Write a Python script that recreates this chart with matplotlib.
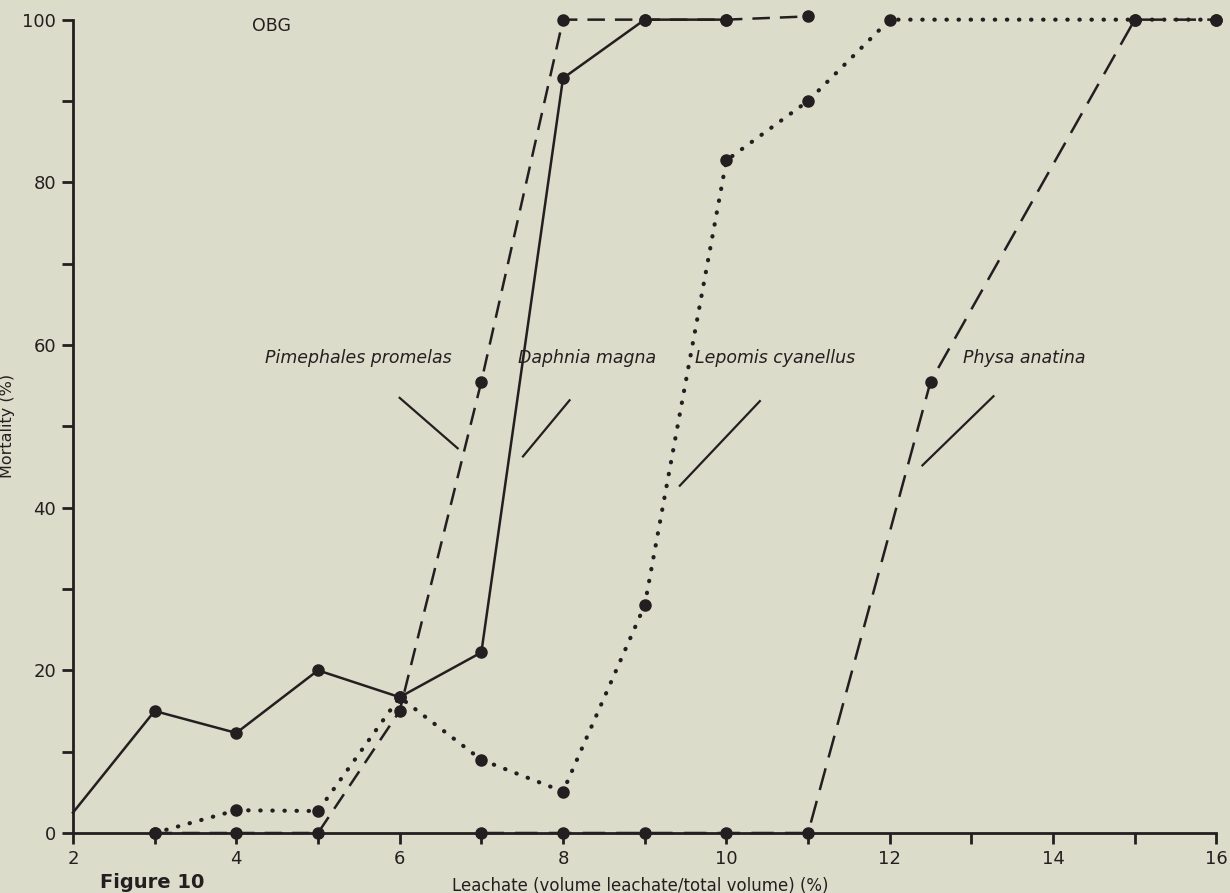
import matplotlib.pyplot as plt
from matplotlib.ticker import MultipleLocator

# data
daphnia_x = [2, 3, 4, 5, 6, 7, 8, 9, 10]
daphnia_y = [2.5, 15, 12.3, 20, 16.7, 22.2, 92.8, 100, 100]

pimephales_x = [3, 4, 5, 6, 7, 8, 9, 10, 11]
pimephales_y = [0, 0, 0, 15, 55.5, 100, 100, 100, 100.4]

lepomis_x = [3, 4, 5, 6, 7, 8, 9, 10, 11, 12, 15, 16]
lepomis_y = [0, 2.8, 2.7, 16.7, 9, 5.1, 28, 82.7, 90, 100, 100, 100]

physa_x = [7, 8, 9, 10, 11, 12.5, 15, 16]
physa_y = [0, 0, 0, 0, 0, 55.5, 100, 100]

species = ['Pimephales promelas', 'Daphnia magna', 'Lepomis cyanellus', 'Physa anatina']
label_x = [5.49, 8.29, 10.59, 13.65]
label_y = [58.4, 58.4, 58.4, 58.4]
leader_start = [(6.0, 53.5), (8.08, 53.2), (10.41, 53.1), (13.27, 53.7)]
leader_end = [(6.71, 47.3), (7.51, 46.3), (9.43, 42.7), (12.40, 45.2)]

bg = '#dcdccb'
ink = '#231f20'

fig = plt.figure(figsize=(12.3, 8.93), dpi=100, facecolor=bg)
ax = fig.add_axes([0.0593, 0.0672, 0.9297, 0.9108])
ax.set_facecolor(bg)

mk = dict(marker='o', markersize=8, color=ink, clip_on=False)

ax.plot(daphnia_x, daphnia_y, linestyle='-', lw=1.8, markevery=list(range(1, len(daphnia_x))), **mk)
ax.plot(pimephales_x, pimephales_y, linestyle=(0, (7, 4)), lw=1.8, **mk)
ax.plot(lepomis_x, lepomis_y, linestyle=(0, (0.1, 2.8)), lw=3.0, dash_capstyle='round', **mk)
ax.plot(physa_x, physa_y, linestyle=(0, (9, 4.5)), lw=1.8, **mk)

for name, tx, ty, s, e in zip(species, label_x, label_y, leader_start, leader_end):
    ax.text(tx, ty, name, style='italic', fontsize=12.5, ha='center', va='center', color=ink)
    ax.plot([s[0], e[0]], [s[1], e[1]], color=ink, lw=1.6)

ax.text(4.43, 99.2, 'OBG', fontsize=12.5, ha='center', va='center', color=ink)

ax.set_xlim(2, 16)
ax.set_ylim(0, 100)
ax.spines['top'].set_visible(False)
ax.spines['right'].set_visible(False)
for sp in ('left', 'bottom'):
    ax.spines[sp].set_linewidth(2)
    ax.spines[sp].set_color(ink)

ax.xaxis.set_major_locator(MultipleLocator(2))
ax.xaxis.set_minor_locator(MultipleLocator(1))
ax.yaxis.set_major_locator(MultipleLocator(20))
ax.yaxis.set_minor_locator(MultipleLocator(10))
ax.tick_params(which='both', direction='out', width=2, color=ink, labelsize=13, labelcolor=ink)
ax.tick_params(which='major', length=8, pad=4)
ax.tick_params(which='minor', length=8)

ax.set_xlabel('Leachate (volume leachate/total volume) (%)', fontsize=12, color=ink)
ax.set_ylabel('Mortality (%)', fontsize=11.5, color=ink)
ax.xaxis.set_label_coords(0.496, -0.054)
ax.yaxis.set_label_coords(-0.051, 0.5)

fig.text(0.081, 0.0224, 'Figure 10', fontsize=14, fontweight='bold', va='top', color=ink)

fig.savefig('out.png', dpi=100, facecolor=bg)
